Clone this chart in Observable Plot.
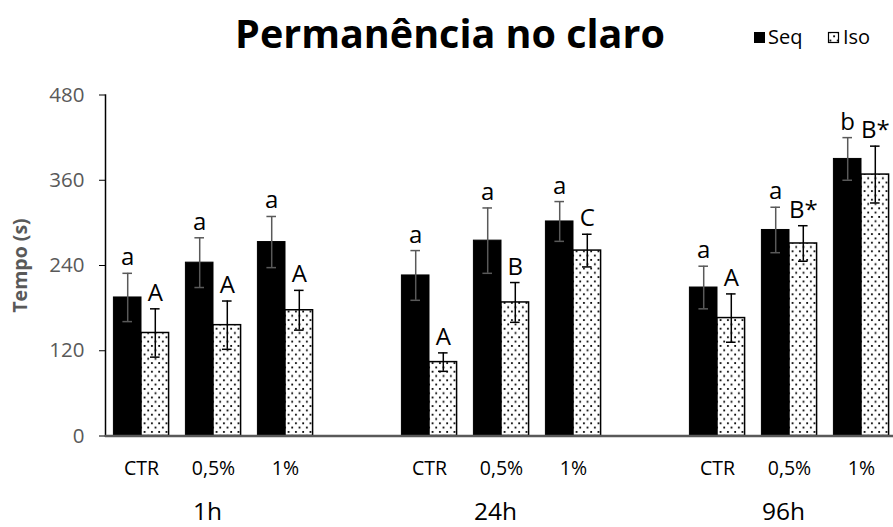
<!DOCTYPE html>
<html>
<head>
<meta charset="utf-8">
<script src="https://cdn.jsdelivr.net/npm/d3@7"></script>
<script src="https://cdn.jsdelivr.net/npm/@observablehq/plot@0.6"></script>
<style>
  html, body { margin: 0; padding: 0; background: white; overflow: hidden; }
  #wrap { position: relative; width: 893px; height: 527px; overflow: hidden; background: white; }
  #overlay { position: absolute; left: 0; top: 0; pointer-events: none; }
  g[aria-label="y-axis label"] text { font-weight: bold; font-size: 19.5px; }
</style>
</head>
<body>
<div id="wrap"></div>
<script>
// ---- data ----
const groups = ["1h", "24h", "96h"];
const concs = ["CTR", "0,5%", "1%"];
const seriesNames = ["Seq", "Iso"];
const seqMean = [195, 244, 273, 226, 275, 302, 209, 290, 390];
const seqErr  = [34, 35, 36, 35, 46, 28, 30, 32, 30];
const isoMean = [145, 156, 177, 104, 188, 261, 166, 271, 368];
const isoErr  = [34, 34, 28, 13, 28, 23, 34, 25, 40];
const seqLetters = ["a", "a", "a", "a", "a", "a", "a", "a", "b"];
const isoLetters = ["A", "A", "A", "A", "B", "C", "A", "B*", "B*"];
const yTicks = [0, 120, 240, 360, 480];
const title = "Permanência no claro";
const yLabel = "Tempo (s)";

// ---- table built from the arrays ----
const slots = [];
const rows = [];
groups.forEach((g, gi) => {
  if (gi > 0) {
    const gap = "gap" + gi;
    slots.push(gap);
    rows.push({slot: gap, series: "Seq", mean: NaN, lo: NaN, hi: NaN});
  }
  concs.forEach((c, ci) => {
    const i = gi * 3 + ci;
    const slot = g + "|" + c;
    slots.push(slot);
    rows.push({slot, group: g, conc: c, series: "Seq", mean: seqMean[i],
      lo: seqMean[i] - seqErr[i], hi: seqMean[i] + seqErr[i], letter: seqLetters[i]});
    rows.push({slot, group: g, conc: c, series: "Iso", mean: isoMean[i],
      lo: isoMean[i] - isoErr[i], hi: isoMean[i] + isoErr[i], letter: isoLetters[i]});
  });
});

const isSeq = d => d.series === "Seq";
const isIso = d => d.series === "Iso";

const chart = Plot.plot({
  width: 900,
  height: 527,
  marginTop: 94.5,
  marginBottom: 91.5,
  marginLeft: 101,
  marginRight: 0,
  style: {fontFamily: "'Open Sans', sans-serif", fontSize: "19.5px", maxWidth: "none", background: "white", color: "black"},
  facet: {data: rows, x: "slot"},
  fx: {domain: slots, paddingInner: 0, paddingOuter: 0, axis: "bottom", tickSize: 0, tickPadding: 25,
       tickFormat: k => k.startsWith("gap") ? "" : k.split("|")[1], label: null},
  x: {domain: seriesNames, axis: null, paddingInner: 0, paddingOuter: 0.305, round: false},
  y: {domain: [0, 480]},
  marks: [
    Plot.axisY({ticks: yTicks, tickSize: 6, tickPadding: 15, stroke: "black", fill: "#595959", fontSize: 20.5,
      tickFormat: d => String(d), label: yLabel, labelAnchor: "center", labelArrow: false, labelOffset: 92}),
    Plot.frame({anchor: "left", facetAnchor: "left", stroke: "black", strokeWidth: 1.5}),
    Plot.barY(rows, {filter: isSeq, x: "series", y: "mean", fill: "black", stroke: "black", strokeWidth: 1}),
    Plot.barY(rows, {filter: isIso, x: "series", y: "mean", fill: "url(#dots)", stroke: "black", strokeWidth: 1.5}),
    Plot.ruleY([0], {stroke: "#595959", strokeWidth: 2.5}),
    Plot.ruleX(rows, {filter: isSeq, x: "series", y1: "lo", y2: "hi", stroke: "#595959", strokeWidth: 1.5}),
    Plot.tickY(rows, {filter: isSeq, x: "series", y: "hi", stroke: "#595959", strokeWidth: 1.5, insetLeft: 9, insetRight: 9}),
    Plot.tickY(rows, {filter: isSeq, x: "series", y: "lo", stroke: "#595959", strokeWidth: 1.5, insetLeft: 9, insetRight: 9}),
    Plot.ruleX(rows, {filter: isIso, x: "series", y1: "lo", y2: "hi", stroke: "black", strokeWidth: 1.5}),
    Plot.tickY(rows, {filter: isIso, x: "series", y: "hi", stroke: "black", strokeWidth: 1.5, insetLeft: 9, insetRight: 9}),
    Plot.tickY(rows, {filter: isIso, x: "series", y: "lo", stroke: "black", strokeWidth: 1.5, insetLeft: 9, insetRight: 9}),
    Plot.text(rows, {x: "series", y: "hi", text: "letter", lineAnchor: "bottom", dy: -8, fontSize: 24, fill: "black"}),
    Plot.text(rows, {filter: d => d.series === "Seq" && d.conc === concs[1], y: 0, text: "group",
      lineAnchor: "bottom", dy: 84, dx: -6, fontSize: 24.5, fill: "black"})
  ]
});
document.getElementById("wrap").appendChild(chart);

// ---- overlay: pattern, title and legend ----
const ov = d3.select("#wrap").append("svg").attr("id", "overlay").attr("width", 893).attr("height", 527);
const pat = ov.append("defs").append("pattern").attr("id", "dots").attr("patternUnits", "userSpaceOnUse")
  .attr("width", 7.3).attr("height", 8.6);
pat.append("rect").attr("width", 7.3).attr("height", 8.6).attr("fill", "white");
pat.append("rect").attr("x", 1).attr("y", 1).attr("width", 1.8).attr("height", 1.8).attr("fill", "black");
pat.append("rect").attr("x", 4.65).attr("y", 5.3).attr("width", 1.8).attr("height", 1.8).attr("fill", "black");

ov.append("text").attr("x", 450).attr("y", 48).attr("text-anchor", "middle")
  .style("font-family", "'Open Sans', sans-serif").style("font-weight", "bold").style("font-size", "39.5px")
  .text(title);

const leg = ov.append("g").style("font-family", "'Open Sans', sans-serif").style("font-size", "20px");
leg.append("rect").attr("x", 754).attr("y", 32).attr("width", 11).attr("height", 11).attr("fill", "black");
leg.append("text").attr("x", 768).attr("y", 44).text(seriesNames[0]);
leg.append("rect").attr("x", 828.5).attr("y", 32.5).attr("width", 10).attr("height", 10)
  .attr("fill", "url(#dots)").attr("stroke", "black").attr("stroke-width", 1.2);
leg.append("text").attr("x", 843).attr("y", 44).text(seriesNames[1]);
</script>
</body>
</html>
